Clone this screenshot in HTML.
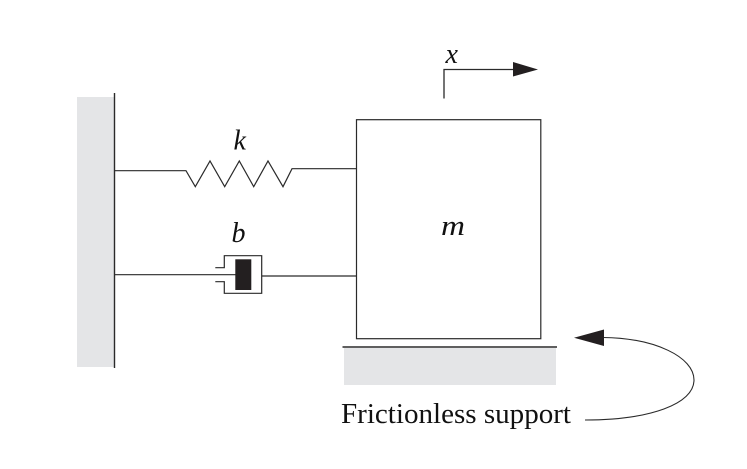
<!DOCTYPE html>
<html>
<head>
<meta charset="utf-8">
<style>
html,body{margin:0;padding:0;background:#fff;width:747px;height:469px;overflow:hidden}
svg{display:block}
text{font-family:"Liberation Serif",serif;fill:#111}
</style>
</head>
<body>
<svg width="747" height="469" viewBox="0 0 747 469" xmlns="http://www.w3.org/2000/svg">
<rect x="77" y="97" width="37.5" height="270" fill="#e4e5e7"/>
<rect x="344" y="348" width="212" height="37" fill="#e4e5e7"/>
<g fill="none" stroke="#2a2a2a" stroke-width="1.2">
<path d="M114.5 93V368" stroke-width="1.4"/>
<path d="M114.5 170.7H186L195.3 186.7L210 161L224.7 186.7L239.3 161L253.7 186.7L268 161L283 186.7L292 168.7H356.5"/>
<path d="M114.5 274.7H235.5"/>
<path d="M261.7 276H356.5"/>
<path d="M215.3 267.7H224.3V255.7H261.7V293.3H224.3V281.7H215.3"/>
<rect x="356.5" y="119.7" width="184.3" height="219"/>
<path d="M342.5 347H557" stroke-width="1.4"/>
<path d="M444 98.5V69.5H514" stroke-width="1.3"/>
<path d="M603 337.5C655 338 694 357 694 380C694 404 650 420 585 420" stroke-width="1.1"/>
</g>
<rect x="235.3" y="259.3" width="16" height="30.7" fill="#231f20"/>
<path d="M538 69.5L513 62V76.5Z" fill="#231f20"/>
<path d="M574 337.7L604 329.5V346Z" fill="#231f20"/>
<text x="233.5" y="149.5" font-size="28" font-style="italic">k</text>
<text x="231.5" y="242" font-size="28" font-style="italic">b</text>
<text x="445.5" y="63" font-size="28" font-style="italic">x</text>
<text x="441" y="235" font-size="28" font-style="italic" textLength="24" lengthAdjust="spacingAndGlyphs">m</text>
<text x="341" y="423" font-size="28" textLength="230" lengthAdjust="spacingAndGlyphs">Frictionless support</text>
</svg>
</body>
</html>
